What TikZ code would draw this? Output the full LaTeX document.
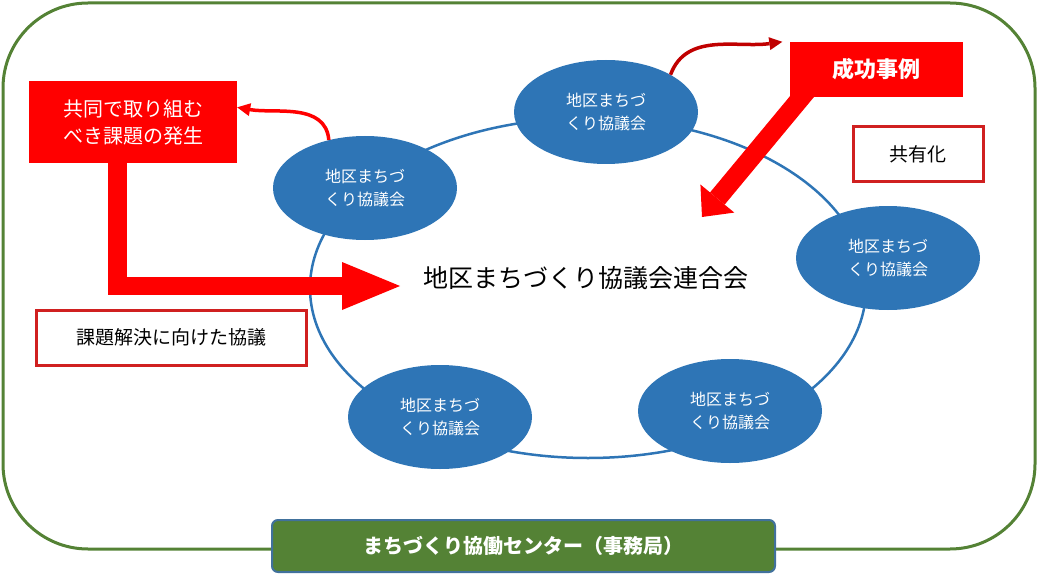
\documentclass[tikz,border=0pt]{standalone}
\usepackage{fontspec}
\setmainfont{Noto Sans CJK JP}
\usepackage{xcolor}
\definecolor{frame}{HTML}{548235}
\definecolor{council}{HTML}{2E75B6}
\definecolor{alert}{HTML}{FF0000}
\definecolor{darkalert}{HTML}{C00000}
\definecolor{noteline}{HTML}{D02020}
\definecolor{officeline}{HTML}{41719C}
\usetikzlibrary{arrows.meta, shapes.geometric, positioning, calc}

\tikzset{
  council/.style={ellipse, fill=council, minimum width=184pt, minimum height=104pt,
        inner sep=0pt, align=center, text=white, font=\fontsize{16}{23}\selectfont},
  redbox/.style={fill=alert, text=white, inner sep=0pt, align=center},
  notebox/.style={draw=noteline, line width=3pt, fill=white, inner sep=0pt,
        font=\fontsize{19}{22}\selectfont}
}

\begin{document}
\begin{tikzpicture}[x=1pt, y=1pt, >=Stealth]
  \useasboundingbox (0,0) rectangle (1038,574);

  % outer frame
  \draw[frame, line width=3pt, rounded corners=85pt] (3,25) rectangle (1035,571);

  % federation ring
  \node[ellipse, draw=council, line width=2.5pt, minimum width=556pt,
        minimum height=340pt, inner sep=0pt] (ring) at (588,286) {};
  \node[font=\fontsize{25}{30}\selectfont] (title) at (586,296)
        {地区まちづくり協議会連合会};

  % councils
  \node[council] (c1) at (606,462) {地区まちづ\\くり協議会};
  \node[council] (c2) at (365,386) {地区まちづ\\くり協議会};
  \node[council] (c3) at (888,316) {地区まちづ\\くり協議会};
  \node[council] (c4) at (730,163) {地区まちづ\\くり協議会};
  \node[council] (c5) at (440,157) {地区まちづ\\くり協議会};

  % shared issue
  \node[redbox, minimum width=208pt, minimum height=82pt,
        font=\fontsize{20}{27}\selectfont] (issue) at (133,452)
        {共同で取り組む\\べき課題の発生};
  \coordinate (ltip) at (400,288);
  \draw[alert, line width=18.5pt, -{Triangle[length=58pt, width=48pt, line width=0pt]}]
    ([xshift=-15.5pt]issue.south) |- (ltip);
  \draw[alert, line width=3.5pt, -{Triangle[length=13pt, width=13pt, line width=0pt]}]
    (c2.127) to[out=95, in=-10] (issue.8);

  % success story
  \node[redbox, minimum width=173pt, minimum height=55pt,
        font=\fontsize{22}{26}\selectfont\bfseries] (success) at (876,504.5)
        {成功事例};
  \coordinate (dtip) at (702,357);
  \draw[alert, line width=19pt, -{Triangle[length=24pt, width=44pt, line width=0pt]}]
    ([shift={(-64,-15)}]success.center) -- (dtip);
  \draw[darkalert, line width=3.5pt, -{Triangle[length=13pt, width=13pt, line width=0pt]}]
    (c1.30) to[out=70, in=188] ([xshift=-7pt]success.north west);

  % notes
  \node[notebox, minimum width=130pt, minimum height=55pt] (share) at (918,419.5)
        {共有化};
  \node[notebox, minimum width=270pt, minimum height=55pt] (talk) at (171,236.5)
        {課題解決に向けた協議};

  % secretariat
  \node[fill=frame, draw=officeline, line width=2pt, rounded corners=6pt,
        minimum width=503pt, minimum height=52pt, text=white,
        font=\fontsize{20}{24}\selectfont\bfseries] (office) at (523.5,28)
        {まちづくり協働センター（事務局）};

\end{tikzpicture}
\end{document}
